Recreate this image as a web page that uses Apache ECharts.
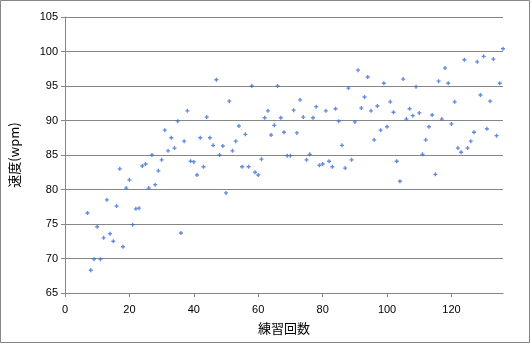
<!DOCTYPE html>
<html><head><meta charset="utf-8">
<script src="https://cdn.jsdelivr.net/npm/echarts@6/dist/echarts.min.js"></script>
<style>html,body{margin:0;padding:0;background:#fff}#c{width:531px;height:344px}</style>
</head><body><div id="c"></div>
<script>
const xStart = 7;
const speeds = [
 76.6, 68.3, 69.9, 74.6, 69.9, 73.0, 78.5, 73.6, 72.5, 77.6,
 83.0, 71.7, 80.2, 81.4, 74.9, 77.2, 77.3, 83.4, 83.7, 80.2,
 85.0, 80.7, 82.7, 84.3, 88.6, 85.6, 87.5, 86.0, 89.9, 73.7,
 87.0, 91.4, 84.1, 84.0, 82.1, 87.5, 83.3, 90.5, 87.5, 86.4,
 95.9, 85.0, 86.3, 79.5, 92.8, 85.6, 87.0, 89.2, 83.3, 88.0,
 83.3, 95.0, 82.5, 82.1, 84.4, 90.4, 91.4, 87.9, 89.3, 95.0,
 90.4, 88.3, 84.9, 84.9, 91.5, 88.2, 93.0, 90.5, 84.3, 85.1,
 90.4, 92.0, 83.5, 83.7, 91.4, 84.1, 83.3, 91.7, 89.9, 86.4,
 83.1, 94.7, 84.3, 89.8, 97.3, 91.8, 93.4, 96.3, 91.4, 87.2,
 92.1, 88.6, 95.4, 89.1, 92.7, 91.2, 84.1, 81.2, 96.0, 90.2,
 91.7, 90.7, 94.9, 91.1, 85.1, 87.2, 89.1, 90.8, 82.2, 95.7,
 90.2, 97.6, 95.4, 89.5, 92.7, 86.0, 85.4, 98.8, 86.0, 87.0,
 88.3, 98.5, 93.7, 99.3, 88.8, 92.8, 98.9, 87.8, 95.4, 100.4
];
const xTicks = [0, 20, 40, 60, 80, 100, 120];
const yTicks = [65, 70, 75, 80, 85, 90, 95, 100, 105];
const xName = '練習回数';
const yName = '速度(wpm)';

const points = speeds.map((v, i) => [xStart + i, v]);
const grey = '#868686';
const chart = echarts.init(document.getElementById('c'), null, {renderer: 'canvas'});
chart.setOption({
  animation: false,
  backgroundColor: '#fff',
  graphic: [{type: 'rect', shape: {x: 0.5, y: 0.5, width: 529, height: 342}, style: {fill: 'none', stroke: grey, lineWidth: 1}, z: -1}],
  grid: {left: 62, top: 17, width: 441, height: 276, containLabel: false},
  xAxis: {
    type: 'value', min: 0, max: 136, interval: 20,
    name: xName, nameLocation: 'middle', nameGap: 29,
    nameTextStyle: {fontSize: 13, color: '#000', fontFamily: 'Noto Sans CJK JP'},
    axisLine: {show: true, lineStyle: {color: grey, width: 1}},
    axisTick: {show: true, length: 4, lineStyle: {color: grey}},
    axisLabel: {show: true, color: '#000', fontSize: 11, fontFamily: 'Liberation Sans', margin: 11, showMaxLabel: false,
      formatter: v => xTicks.includes(v) ? String(v) : ''},
    splitLine: {show: false}
  },
  yAxis: {
    type: 'value', min: 65, max: 105, interval: 5,
    name: yName, nameLocation: 'middle', nameGap: 44, nameRotate: 90,
    nameTextStyle: {fontSize: 13, color: '#000', fontFamily: 'Noto Sans CJK JP'},
    axisLine: {show: true, lineStyle: {color: grey, width: 1}},
    axisTick: {show: true, length: 4, lineStyle: {color: grey}},
    axisLabel: {show: true, color: '#000', fontSize: 11, fontFamily: 'Liberation Sans', margin: 7,
      formatter: v => yTicks.includes(v) ? String(v) : ''},
    splitLine: {show: true, lineStyle: {color: grey, width: 1}}
  },
  series: [{
    type: 'scatter',
    data: points,
    symbol: 'path://M2,0H4V2H6V4H4V6H2V4H0V2H2Z',
    symbolSize: 4,
    itemStyle: {color: '#3a6ed8'}
  }]
});
</script></body></html>
